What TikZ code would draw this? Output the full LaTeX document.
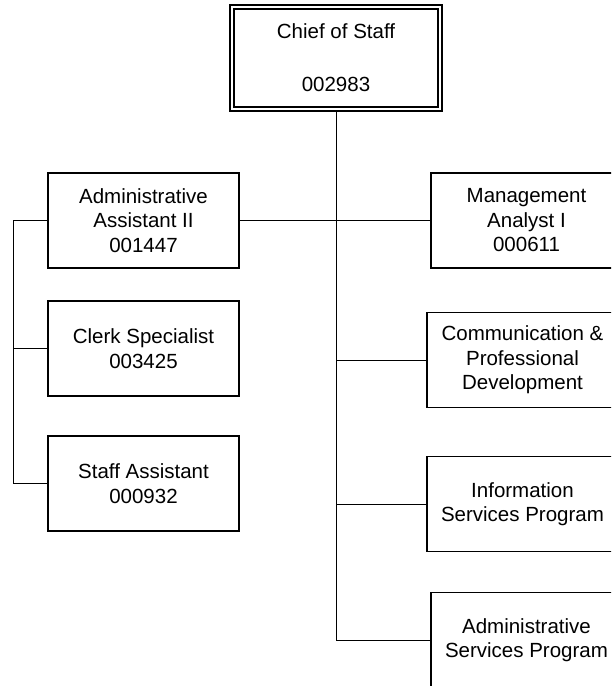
\documentclass[tikz,border=0pt]{standalone}
\usepackage{fontspec}
\setmainfont{Liberation Sans}
\begin{document}
\begin{tikzpicture}[x=1pt,y=-1pt,
  box/.style={draw, line width=1.4pt, minimum width=191pt, minimum height=95pt,
    inner sep=0pt, align=center, font=\fontsize{20.5}{24.5}\selectfont},
  topbox/.style={box, line width=2pt, minimum width=212pt, minimum height=106pt},
  link/.style={line width=1pt}]
\useasboundingbox (0,0) rectangle (611,686);
\clip (0,0) rectangle (611,686);

% head of the unit, double frame
\node[topbox] (chief) at (336,58) {Chief of Staff\\[28.5pt]002983};
\draw[line width=1.4pt] ([shift={(5,5)}]chief.north west) rectangle ([shift={(-5,-5)}]chief.south east);

% support staff (left)
\node[box] (aa2)   at (143.5,220.5) {Administrative\\Assistant II\\001447};
\node[box] (clerk) at (143.5,348.5) {Clerk Specialist\\003425};
\node[box] (staff) at (143.5,483.5) {Staff Assistant\\000932};

% programs and analyst (right)
\node[box] (mgmt)     at (526.5,220.5) {Management\\Analyst I\\000611};
\node[box] (comm)     at (522.5,360)   {Communication \&\\Professional\\Development};
\node[box] (info)     at (522.5,504)   {Information\\Services Program};
\node[box] (adminsvc) at (526.5,640)   {Administrative\\Services Program};

% connectors
\coordinate (bracket) at (13,0);
\draw[link] (chief.south) -- (chief.south |- adminsvc.west) -- (adminsvc.west);
\draw[link] (aa2.east) -- (mgmt.west);
\draw[link] (chief.south |- comm.west) -- (comm.west);
\draw[link] (chief.south |- info.west) -- (info.west);
\draw[link] (aa2.west) -- (aa2.west -| bracket) |- (staff.west);
\draw[link] (clerk.west) -- (clerk.west -| bracket);
\end{tikzpicture}
\end{document}
